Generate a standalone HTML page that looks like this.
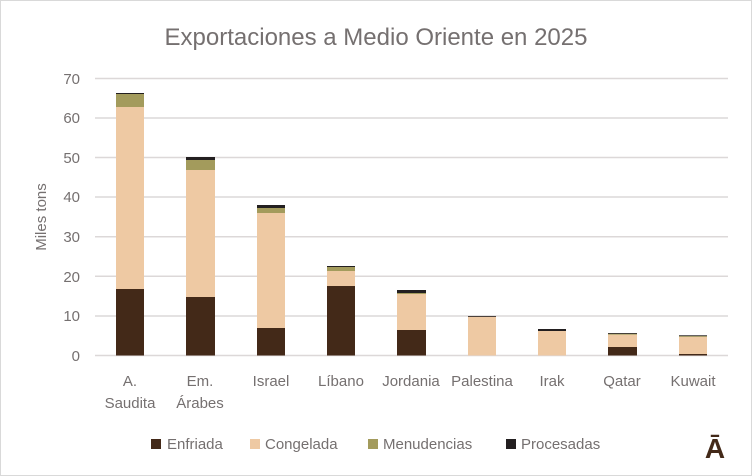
<!DOCTYPE html>
<html><head><meta charset="utf-8"><style>
body{margin:0;background:#fff}
svg{display:block;font-family:"Liberation Sans",sans-serif}
</style></head><body>
<svg width="752" height="476" viewBox="0 0 752 476">
<rect x="0.5" y="0.5" width="751" height="475" fill="#fff" stroke="#d9d9d9"/>
<text x="376" y="45" text-anchor="middle" font-size="24" fill="#757070">Exportaciones a Medio Oriente en 2025</text>
<g stroke="#dcd8d8" stroke-width="1.5">
<line x1="95" x2="728" y1="355.5" y2="355.5"/>
<line x1="95" x2="728" y1="316" y2="316"/>
<line x1="95" x2="728" y1="276.3" y2="276.3"/>
<line x1="95" x2="728" y1="236.7" y2="236.7"/>
<line x1="95" x2="728" y1="197" y2="197"/>
<line x1="95" x2="728" y1="157.5" y2="157.5"/>
<line x1="95" x2="728" y1="118" y2="118"/>
<line x1="95" x2="728" y1="78.5" y2="78.5"/>
</g>
<g font-size="15" fill="#757070" text-anchor="end">
<text x="80" y="361">0</text><text x="80" y="321">10</text><text x="80" y="282">20</text>
<text x="80" y="242">30</text><text x="80" y="202">40</text><text x="80" y="163">50</text>
<text x="80" y="123">60</text><text x="80" y="84">70</text>
</g>
<text transform="translate(46,217) rotate(-90)" text-anchor="middle" font-size="15" fill="#757070">Miles tons</text>
<g>
<!-- A. Saudita -->
<rect x="116" y="289" width="28" height="66.5" fill="#432918"/>
<rect x="116" y="107" width="28" height="182" fill="#eec9a3"/>
<rect x="116" y="94" width="28" height="13" fill="#a39b5c"/>
<rect x="116" y="93" width="28" height="1" fill="#231f20"/>
<!-- Em -->
<rect x="186" y="297" width="29" height="58.5" fill="#432918"/>
<rect x="186" y="170" width="29" height="127" fill="#eec9a3"/>
<rect x="186" y="160" width="29" height="10" fill="#a39b5c"/>
<rect x="186" y="157" width="29" height="3" fill="#231f20"/>
<!-- Israel -->
<rect x="257" y="328" width="28" height="27.5" fill="#432918"/>
<rect x="257" y="213" width="28" height="115" fill="#eec9a3"/>
<rect x="257" y="208" width="28" height="5" fill="#a39b5c"/>
<rect x="257" y="205" width="28" height="3" fill="#231f20"/>
<!-- Libano -->
<rect x="327" y="286" width="28" height="69.5" fill="#432918"/>
<rect x="327" y="271" width="28" height="15" fill="#eec9a3"/>
<rect x="327" y="267" width="28" height="4" fill="#a39b5c"/>
<rect x="327" y="266" width="28" height="1" fill="#231f20"/>
<!-- Jordania -->
<rect x="397" y="330" width="29" height="25.5" fill="#432918"/>
<rect x="397" y="294" width="29" height="36" fill="#eec9a3"/>
<rect x="397" y="293" width="29" height="1" fill="#a39b5c"/>
<rect x="397" y="290" width="29" height="3" fill="#231f20"/>
<!-- Palestina -->
<rect x="468" y="316" width="28" height="39.5" fill="#eec9a3"/>
<rect x="468" y="316" width="28" height="0.8" fill="#231f20"/>
<!-- Irak -->
<rect x="538" y="331" width="28" height="24.5" fill="#eec9a3"/>
<rect x="538" y="329" width="28" height="2" fill="#231f20"/>
<!-- Qatar -->
<rect x="608" y="347" width="29" height="8.5" fill="#432918"/>
<rect x="608" y="334.7" width="29" height="12.3" fill="#eec9a3"/>
<rect x="608" y="333.7" width="29" height="1" fill="#a39b5c"/>
<rect x="608" y="333" width="29" height="0.8" fill="#231f20"/>
<!-- Kuwait -->
<rect x="679" y="354" width="28" height="1.5" fill="#432918"/>
<rect x="679" y="336.7" width="28" height="17.3" fill="#eec9a3"/>
<rect x="679" y="336" width="28" height="0.8" fill="#a39b5c"/>
<rect x="679" y="335.3" width="28" height="0.8" fill="#231f20"/>
</g>
<g font-size="15" fill="#757070" text-anchor="middle">
<text x="130" y="386">A.</text><text x="130" y="408">Saudita</text>
<text x="200" y="386">Em.</text><text x="200" y="408">Árabes</text>
<text x="271" y="386">Israel</text>
<text x="341" y="386">Líbano</text>
<text x="411" y="386">Jordania</text>
<text x="482" y="386">Palestina</text>
<text x="552" y="386">Irak</text>
<text x="622" y="386">Qatar</text>
<text x="693" y="386">Kuwait</text>
</g>
<g font-size="15" fill="#757070">
<rect x="151" y="439" width="10" height="10" fill="#432918"/><text x="167" y="449">Enfriada</text>
<rect x="250" y="439" width="10" height="10" fill="#eec9a3"/><text x="265" y="449">Congelada</text>
<rect x="368" y="439" width="10" height="10" fill="#a39b5c"/><text x="383" y="449">Menudencias</text>
<rect x="506" y="439" width="10" height="10" fill="#231f20"/><text x="521" y="449">Procesadas</text>
</g>
<text x="715" y="458" text-anchor="middle" font-size="28" font-weight="bold" fill="#432918">Ā</text>
</svg>
</body></html>
